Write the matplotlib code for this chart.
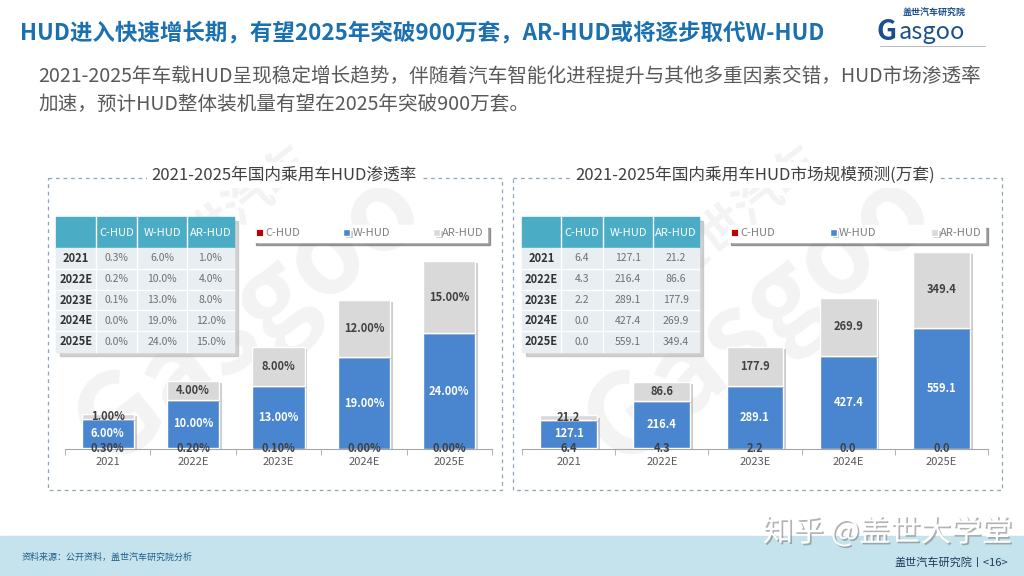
import matplotlib
matplotlib.use("Agg")
import matplotlib.pyplot as plt
from matplotlib.patches import Rectangle
import matplotlib.patheffects as pe

plt.rcParams["font.family"] = ["Noto Sans CJK SC", "DejaVu Sans"]

# -------- data --------
years = ["2021", "2022E", "2023E", "2024E", "2025E"]
series = ["C-HUD", "W-HUD", "AR-HUD"]

rate_c = [0.3, 0.2, 0.1, 0.0, 0.0]
rate_w = [6.0, 10.0, 13.0, 19.0, 24.0]
rate_ar = [1.0, 4.0, 8.0, 12.0, 15.0]

size_c = [6.4, 4.3, 2.2, 0.0, 0.0]
size_w = [127.1, 216.4, 289.1, 427.4, 559.1]
size_ar = [21.2, 86.6, 177.9, 269.9, 349.4]

title = "HUD进入快速增长期，有望2025年突破900万套，AR-HUD或将逐步取代W-HUD"
sub1 = "2021-2025年车载HUD呈现稳定增长趋势，伴随着汽车智能化进程提升与其他多重因素交错，HUD市场渗透率"
sub2 = "加速，预计HUD整体装机量有望在2025年突破900万套。"
left_title = "2021-2025年国内乘用车HUD渗透率"
right_title = "2021-2025年国内乘用车HUD市场规模预测(万套)"

# -------- colours --------
C_RED = "#c00000"
C_BLUE = "#4a86cf"
C_GRAY = "#d9d9d9"
C_TEAL = "#4bacc6"
C_ROW = "#e8eef2"
C_TXT = "#404040"

W, H = 1024, 576


def rect(x0, y0, x1, y1):
    # pixel box (top-left origin) -> figure fraction
    return [x0 / W, 1 - y1 / H, (x1 - x0) / W, (y1 - y0) / H]


fig = plt.figure(figsize=(10.24, 5.76), dpi=100)
bg = fig.add_axes([0, 0, 1, 1], zorder=0)
bg.set_xlim(0, W)
bg.set_ylim(H, 0)
bg.axis("off")

# -------- header --------
bg.text(20, 33, title, fontsize=16.2, fontweight="bold", color="#1a70b0",
        va="center", ha="left")
bg.text(38, 76, sub1, fontsize=14.1, color="#595959", va="center", ha="left")
bg.text(38, 104, sub2, fontsize=14.1, color="#595959", va="center", ha="left")

# logo
bg.text(903, 13, "盖世汽车研究院", fontsize=6.5, fontweight="bold",
        color="#1b4f8a", va="center", ha="left")
bg.text(932, 32, "asgoo", fontsize=17, color="#1b4f8a", va="center", ha="center")
bg.text(886, 32, "G", fontsize=20, color="#1b4f8a", va="center", ha="center",
        fontweight="bold", style="italic")
bg.plot([880, 985], [46, 46], color="#b0b0b0", lw=0.6)

# faint watermarks
for cx in (250, 760):
    bg.text(cx, 320, "Gasgoo", fontsize=80, rotation=38, color="#f3f3f3",
            ha="center", va="center", zorder=0.5, fontweight="bold")
    bg.text(cx - 20, 215, "盖世汽车", fontsize=34, rotation=38, color="#f3f3f3",
            ha="center", va="center", zorder=0.5, fontweight="bold")

# -------- footer --------
bg.add_patch(Rectangle((0, 536), W, 40, color="#c4e3ec", zorder=1))
bg.text(22, 557, "资料来源：公开资料，盖世汽车研究院分析", fontsize=6.5,
        color="#1f5f8b", style="italic", va="center", ha="left", zorder=2)
bg.text(1008, 562, "盖世汽车研究院丨<16>", fontsize=8, color="#1f3a5a",
        va="center", ha="right", zorder=2)
bg.text(1012, 532, "知乎 @盖世大学堂", fontsize=22, color="white",
        va="center", ha="right", zorder=3,
        path_effects=[pe.withSimplePatchShadow(offset=(1.2, -1.2),
                                               shadow_rgbFace="#7f7f7f", alpha=0.6)])

# -------- panel frames --------
for (x0, x1, tx, txt) in [(48, 502, 284, left_title), (513, 1002, 755, right_title)]:
    bg.add_patch(Rectangle((x0, 178), x1 - x0, 312, fill=False,
                           ec="#8ea6bd", lw=0.9, ls=(0, (3, 3)), zorder=1))
    bg.text(tx, 175, txt, fontsize=12, color=C_TXT, ha="center", va="center",
            zorder=2, bbox=dict(fc="white", ec="none", pad=3))


# -------- tables --------
def draw_table(x_cols, y_top, head_h, row_h, cols, fmt):
    x_l, x_r = x_cols[0], x_cols[-1]
    n = len(years)
    y_bot = y_top + head_h + n * row_h
    bg.add_patch(Rectangle((x_l + 4, y_top + 4), x_r - x_l, y_bot - y_top,
                           color="#b5b5b5", alpha=0.6, zorder=3))
    bg.add_patch(Rectangle((x_l, y_top), x_r - x_l, head_h, color=C_TEAL, zorder=4))
    bg.add_patch(Rectangle((x_l, y_top + head_h), x_r - x_l, n * row_h,
                           color=C_ROW, zorder=4))
    for x in x_cols[1:-1]:
        bg.plot([x, x], [y_top, y_bot], color="white", lw=1, zorder=5)
    for i in range(1, n):
        y = y_top + head_h + i * row_h
        bg.plot([x_l, x_r], [y, y], color="white", lw=1, zorder=5)
    for j, s in enumerate(series):
        xc = (x_cols[j + 1] + x_cols[j + 2]) / 2
        bg.text(xc, y_top + head_h / 2, s, color="white", fontsize=8,
                ha="center", va="center", zorder=6)
    for i, yr in enumerate(years):
        yc = y_top + head_h + (i + 0.5) * row_h
        bg.text((x_cols[0] + x_cols[1]) / 2, yc, yr, color="#333333", fontsize=8,
                ha="center", va="center", zorder=6, fontweight="bold")
        for j, col in enumerate(cols):
            xc = (x_cols[j + 1] + x_cols[j + 2]) / 2
            bg.text(xc, yc, fmt.format(col[i]), color="#707070", fontsize=7.5,
                    ha="center", va="center", zorder=6)


draw_table([56, 96, 137, 187, 234], 217, 31, 20.8, [rate_c, rate_w, rate_ar], "{:.1f}%")
draw_table([522, 561, 603, 653, 699], 217, 31, 20.8, [size_c, size_w, size_ar], "{:.1f}")


# -------- charts --------
def draw_chart(box, c, w, ar, ymax, fmt, legend_box):
    ax = fig.add_axes(rect(*box), zorder=2)
    ax.patch.set_alpha(0)
    x = range(len(years))
    shadow = [pe.withSimplePatchShadow(offset=(2, -1.5), shadow_rgbFace="#9a9a9a", alpha=0.5)]
    b1 = ax.bar(x, c, width=0.61, color=C_RED, edgecolor="white", lw=0.6,
                label=series[0])
    bot2 = c
    b2 = ax.bar(x, w, width=0.61, bottom=bot2, color=C_BLUE, edgecolor="white",
                lw=1, label=series[1], path_effects=shadow)
    bot3 = [a + b for a, b in zip(c, w)]
    b3 = ax.bar(x, ar, width=0.61, bottom=bot3, color=C_GRAY, edgecolor="white",
                lw=1, label=series[2], path_effects=shadow)
    for i in x:
        ax.text(i, c[i] / 2, fmt.format(c[i]), ha="center", va="center",
                fontsize=8, color=C_TXT, fontweight="bold")
        ax.text(i, bot2[i] + w[i] / 2, fmt.format(w[i]), ha="center", va="center",
                fontsize=8, color="white", fontweight="bold")
        ax.text(i, bot3[i] + ar[i] / 2, fmt.format(ar[i]), ha="center", va="center",
                fontsize=8, color=C_TXT, fontweight="bold")
    ax.set_xlim(-0.5, len(years) - 0.5)
    ax.set_ylim(0, ymax)
    ax.set_xticks(list(x))
    ax.set_xticklabels(years, fontsize=8, color="#595959")
    ax.set_xticks([i - 0.5 for i in range(len(years) + 1)], minor=True)
    ax.tick_params(axis="x", which="major", length=0, pad=6)
    ax.tick_params(axis="x", which="minor", length=4, color="#a6a6a6")
    ax.set_yticks([])
    for s in ("left", "right", "top"):
        ax.spines[s].set_visible(False)
    ax.spines["bottom"].set_color("#a6a6a6")
    lx0, ly0, lx1, ly1 = legend_box
    leg = ax.legend(handles=[b1, b2, b3], ncol=3, loc="center",
                    bbox_to_anchor=(lx0 / W, 1 - ly1 / H, (lx1 - lx0) / W, (ly1 - ly0) / H),
                    bbox_transform=fig.transFigure, mode="expand",
                    fontsize=8, handlelength=0.6, handleheight=0.6,
                    handletextpad=0.2, borderaxespad=0, frameon=True,
                    fancybox=False, shadow=True, borderpad=0.3)
    leg.get_frame().set_edgecolor("white")
    for t in leg.get_texts():
        t.set_color("#7f7f7f")
    return ax


draw_chart((65, 232, 492, 449), rate_c, rate_w, rate_ar, 45, "{:.2f}%",
           (253, 225, 487, 242))
draw_chart((522, 232, 988, 449), size_c, size_w, size_ar, 1000, "{:.1f}",
           (728, 225, 985, 242))

fig.savefig("out.png", dpi=100)
